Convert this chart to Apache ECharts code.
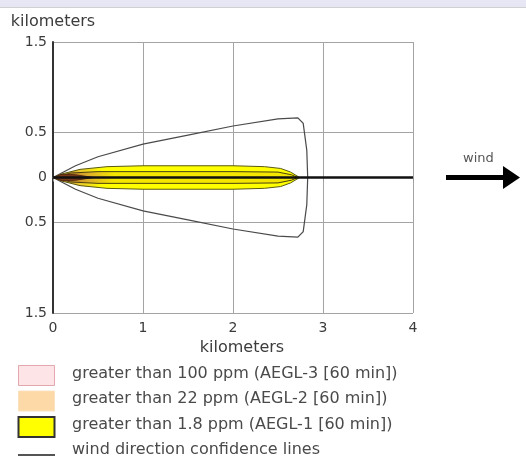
<!DOCTYPE html>
<html>
<head>
<meta charset="utf-8">
<script src="https://cdn.jsdelivr.net/npm/echarts@6/dist/echarts.min.js"></script>
<style>
  html, body { margin: 0; padding: 0; background: #fff; }
  #main { width: 526px; height: 465px; }
</style>
</head>
<body>
<div id="main"></div>
<script>
// plume footprint, half widths in km either side of the wind axis
const confX = [0, 0.25, 0.5, 1.0, 1.5, 2.0, 2.5, 2.72, 2.78, 2.82, 2.83];
const confHalf = [0, 0.13, 0.23, 0.37, 0.47, 0.57, 0.65, 0.66, 0.6, 0.3, 0];

const aegl1X = [0, 0.1, 0.3, 0.6, 1.0, 1.5, 2.0, 2.35, 2.53, 2.64, 2.74];
const aegl1Half = [0, 0.04, 0.09, 0.12, 0.13, 0.13, 0.13, 0.12, 0.1, 0.06, 0];

const aegl2X = [0, 0.2, 0.5, 1.0, 2.0, 2.5, 2.65, 2.72];
const aegl2Half = [0, 0.05, 0.065, 0.065, 0.065, 0.06, 0.03, 0];

const aegl3X = [0, 0.1, 0.25, 0.45];
const aegl3Half = [0, 0.035, 0.03, 0];

const centerLine = [[0, 0], [4, 0]];

const yTicks = [-1.5, -0.5, 0, 0.5, 1.5];

const legendItems = [
  'greater than 100 ppm (AEGL-3 [60 min])',
  'greater than 22 ppm (AEGL-2 [60 min])',
  'greater than 1.8 ppm (AEGL-1 [60 min])',
  'wind direction confidence lines'
];

const FONT = 'DejaVu Sans';
const TXT = '#3c3c3c';

function plume(name, xs, halves, style) {
  return {
    type: 'custom',
    name: name,
    silent: true,
    data: [0],
    renderItem: function (params, api) {
      const pts = [];
      for (let i = 0; i < xs.length; i++) pts.push(api.coord([xs[i], halves[i]]));
      for (let i = xs.length - 1; i >= 0; i--) pts.push(api.coord([xs[i], -halves[i]]));
      return { type: 'polygon', shape: { points: pts }, style: style };
    }
  };
}

const chart = echarts.init(document.getElementById('main'));

const legendGraphics = [];
const rowY = [376, 401, 427, 452];
legendItems.forEach(function (t, i) {
  legendGraphics.push({
    type: 'text', left: 72, top: rowY[i] - 10,
    style: { text: t, fill: '#4a4a4a', font: '16px "' + FONT + '"' }
  });
});
legendGraphics.push(
  { type: 'rect', shape: { x: 18.5, y: 365.5, width: 36, height: 20 },
    style: { fill: '#fde4e6', stroke: '#e3a8ae', lineWidth: 1 } },
  { type: 'rect', shape: { x: 18.5, y: 391, width: 36, height: 20 },
    style: { fill: '#fcd9a6', stroke: '#fbe2bf', lineWidth: 1 } },
  { type: 'rect', shape: { x: 18.5, y: 417, width: 36, height: 20 },
    style: { fill: '#ffff00', stroke: '#333', lineWidth: 2 } },
  { type: 'line', shape: { x1: 18, y1: 455, x2: 55, y2: 455 },
    style: { stroke: '#555', lineWidth: 2 } }
);

const option = {
  animation: false,
  backgroundColor: '#fff',
  grid: { left: 53, top: 42, right: 113, bottom: 152 },
  xAxis: {
    type: 'value', min: 0, max: 4, interval: 1,
    name: 'kilometers', nameLocation: 'middle', nameGap: 26,
    nameTextStyle: { color: TXT, fontSize: 16, fontFamily: FONT, padding: [0, 0, 0, 18] },
    axisLine: { lineStyle: { color: '#999', width: 1 } },
    axisTick: { show: true, length: 4, lineStyle: { color: '#999' } },
    axisLabel: { color: TXT, fontSize: 14, fontFamily: FONT, margin: 8 },
    splitLine: { show: true, lineStyle: { color: '#a4a4a4', width: 1 } }
  },
  yAxis: {
    type: 'value', min: -1.5, max: 1.5, interval: 0.5,
    name: 'kilometers', nameLocation: 'end', nameGap: 12,
    nameTextStyle: { color: TXT, fontSize: 16, fontFamily: FONT, align: 'center' },
    axisLine: { show: true, lineStyle: { color: '#333', width: 2 } },
    axisTick: { show: false },
    axisLabel: {
      color: TXT, fontSize: 14, fontFamily: FONT, margin: 6,
      formatter: function (v) {
        return yTicks.indexOf(v) >= 0 ? String(Math.abs(v)) : '';
      }
    },
    splitLine: {
      show: true,
      lineStyle: {
        color: ['#a4a4a4', 'rgba(0,0,0,0)', '#a4a4a4', '#a4a4a4', '#a4a4a4', 'rgba(0,0,0,0)', '#a4a4a4'],
        width: 1
      }
    }
  },
  series: [
    plume('confidence', confX, confHalf, { fill: 'none', stroke: '#4a4a4a', lineWidth: 1.2 }),
    plume('AEGL-1', aegl1X, aegl1Half, {
      fill: new echarts.graphic.LinearGradient(0, 0, 1, 0, [
        { offset: 0, color: '#b07a3a' },
        { offset: 0.1, color: '#e8c030' },
        { offset: 0.2, color: '#ffff00' },
        { offset: 1, color: '#ffff00' }
      ]),
      stroke: '#5a5a10', lineWidth: 1
    }),
    plume('AEGL-2', aegl2X, aegl2Half, {
      fill: new echarts.graphic.LinearGradient(0, 0, 1, 0, [
        { offset: 0, color: '#9a5a28' },
        { offset: 0.15, color: '#e0b028' },
        { offset: 0.25, color: '#f4e600' },
        { offset: 1, color: '#f4e600' }
      ]),
      stroke: '#4a4010', lineWidth: 1
    }),
    plume('AEGL-3', aegl3X, aegl3Half, { fill: '#7a3a1a', stroke: '#5a2a10', lineWidth: 1 }),
    {
      type: 'line', name: 'wind axis', data: centerLine, silent: true,
      symbol: 'none', lineStyle: { color: '#111', width: 2.5 }
    }
  ],
  graphic: [
    { type: 'rect', shape: { x: 0, y: 0, width: 526, height: 7 }, style: { fill: '#e6e6f4' } },
    { type: 'line', shape: { x1: 0, y1: 7.5, x2: 526, y2: 7.5 }, style: { stroke: '#d0d0d0', lineWidth: 1 } },
    { type: 'text', left: 463, top: 152, style: { text: 'wind', fill: '#555', font: '13px "' + FONT + '"' } },
    { type: 'rect', shape: { x: 446, y: 175, width: 60, height: 5 }, style: { fill: '#000' } },
    { type: 'polygon', shape: { points: [[503, 166], [520, 177.5], [503, 189]] }, style: { fill: '#000' } }
  ].concat(legendGraphics)
};

chart.setOption(option);
</script>
</body>
</html>
